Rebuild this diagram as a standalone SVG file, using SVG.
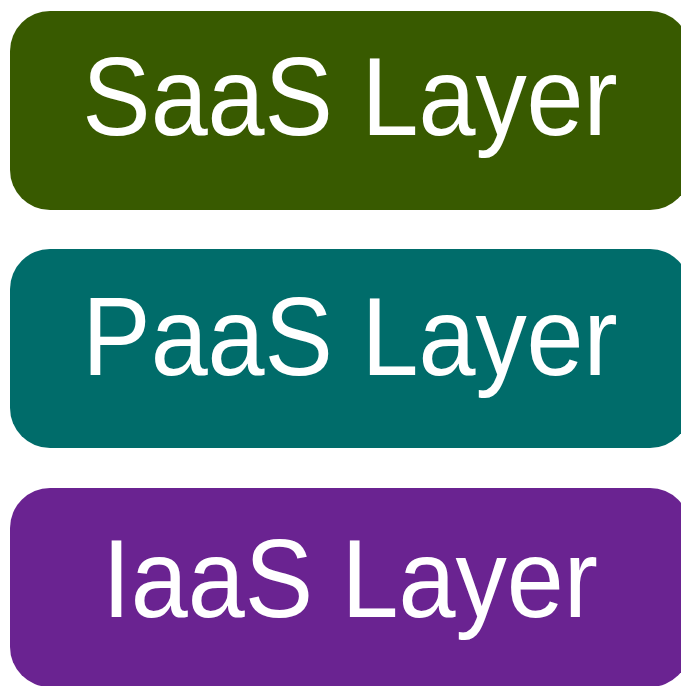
<svg xmlns="http://www.w3.org/2000/svg" width="681" height="686" viewBox="0 0 681 686">
<style>
.box{stroke:none}
.lbl{font-family:"Liberation Sans",Arial,sans-serif;font-size:112px;fill:#ffffff;text-anchor:middle}
</style>
<rect width="681" height="686" fill="#ffffff"/>
<g id="saas">
<rect class="box" x="10" y="11" width="680" height="199" rx="40" ry="40" fill="#385a00"/>
<text class="lbl" transform="translate(350,135) scale(0.915,1)">SaaS Layer</text>
</g>
<g id="paas">
<rect class="box" x="10" y="249" width="680" height="199" rx="40" ry="40" fill="#006c6a"/>
<text class="lbl" transform="translate(350,375) scale(0.915,1)">PaaS Layer</text>
</g>
<g id="iaas">
<rect class="box" x="10" y="488" width="680" height="199" rx="40" ry="40" fill="#6a2391"/>
<text class="lbl" transform="translate(350,617) scale(0.915,1)">IaaS Layer</text>
</g>
<g id="connectors"/>
</svg>
